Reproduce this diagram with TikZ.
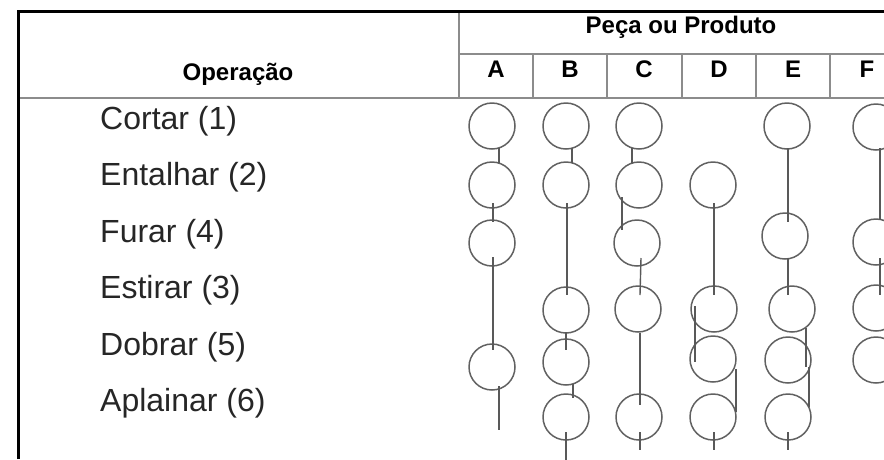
\documentclass[tikz,border=0pt]{standalone}
\usepackage{fontspec}
\setmainfont{Liberation Sans}
\usetikzlibrary{calc}

\begin{document}
\begin{tikzpicture}[x=1pt,y=-1pt]
\tikzstyle{op}=[circle,draw=black!62,line width=1.5pt,minimum size=46pt,inner sep=0pt]
\tikzstyle{link}=[draw=black!65,line width=1.4pt]
\tikzstyle{rule}=[draw=black!45,line width=1.6pt]
\tikzstyle{lbl}=[anchor=base west,inner sep=0pt,text=black!85,font=\fontsize{32}{38}\selectfont]
\tikzstyle{hd}=[anchor=base,inner sep=0pt,font=\fontsize{24}{28}\selectfont\bfseries]
\useasboundingbox (0,0) rectangle (884,459);
\clip (0,0) rectangle (884,459);
% table head
\draw[rule] (18,98) -- (884,98);
\draw[rule] (459,11) -- (459,98);
\draw[rule] (459,54) -- (884,54);
\foreach \x in {533,607,682,756,830} \draw[rule] (\x,54) -- (\x,98);
\draw[line width=3pt] (18,459) -- (18,11) -- (884,11);
\node[hd]	(hop)	at (238,80)		{Operação};
\node[hd]	(hpp)	at (681,33)		{Peça ou Produto};
\foreach \c/\x in {A/496,B/570,C/644,D/719,E/793,F/867}
	\node[hd] (h\c) at (\x,77) {\c};
% operations
\node[lbl]	(op1)	at (100,129)	{Cortar (1)};
\node[lbl]	(op2)	at (100,185)	{Entalhar (2)};
\node[lbl]	(op3)	at (100,242)	{Furar (4)};
\node[lbl]	(op4)	at (100,298)	{Estirar (3)};
\node[lbl]	(op5)	at (100,355)	{Dobrar (5)};
\node[lbl]	(op6)	at (100,411)	{Aplainar (6)};
% circles
\node[op]	(A1)	at (492,126)	{};
\node[op]	(A2)	at (492,185)	{};
\node[op]	(A3)	at (492,243)	{};
\node[op]	(A5)	at (492,367)	{};
\node[op]	(B1)	at (566,126)	{};
\node[op]	(B2)	at (566,185)	{};
\node[op]	(B4)	at (566,310)	{};
\node[op]	(B5)	at (566,362)	{};
\node[op]	(B6)	at (566,417)	{};
\node[op]	(C1)	at (639,126)	{};
\node[op]	(C2)	at (639,185)	{};
\node[op]	(C3)	at (637,243)	{};
\node[op]	(C4)	at (638,309)	{};
\node[op]	(C6)	at (639,417)	{};
\node[op]	(D2)	at (713,185)	{};
\node[op]	(D4)	at (714,309)	{};
\node[op]	(D5)	at (713,359)	{};
\node[op]	(D6)	at (713,417)	{};
\node[op]	(E1)	at (787,126)	{};
\node[op]	(E3)	at (785,236)	{};
\node[op]	(E4)	at (792,309)	{};
\node[op]	(E5)	at (788,360)	{};
\node[op]	(E6)	at (788,417)	{};
\node[op]	(F1)	at (876,127)	{};
\node[op]	(F3)	at (876,242)	{};
\node[op]	(F4)	at (876,308)	{};
\node[op]	(F5)	at (876,360)	{};
% routes
\draw[link] ($(A1)+(7,22)$) -- ($(A2)+(7,-22)$);
\draw[link] ($(A2)+(1,18)$) -- ($(A3)+(1,-21)$);
\draw[link] ($(A3)+(1,14)$) -- ($(A5)+(1,-17)$);
\draw[link] ($(A5)+(7,19)$) -- ($(A5)+(7,63)$);
\draw[link] ($(B1)+(6,22)$) -- ($(B2)+(6,-22)$);
\draw[link] ($(B2)+(1,18)$) -- ($(B4)+(1,-15)$);
\draw[link] ($(B4)+(0,22)$) -- ($(B5)+(0,-12)$);
\draw[link] ($(B5)+(7,22)$) -- ($(B6)+(7,-19)$);
\draw[link] ($(B6)+(0,15)$) -- ($(B6)+(0,45)$);
\draw[link] ($(C1)+(-7,22)$) -- ($(C2)+(-7,-22)$);
\draw[link] ($(C2)+(-17,12)$) -- ($(C3)+(-15,-13)$);
\draw[link] ($(C3)+(4,15)$) -- ($(C4)+(2,-14)$);
\draw[link] ($(C4)+(2,24)$) -- ($(C6)+(1,-12)$);
\draw[link] ($(C6)+(1,15)$) -- ($(C6)+(1,33)$);
\draw[link] ($(D2)+(1,18)$) -- ($(D4)+(0,-14)$);
\draw[link] ($(D4)+(-19,-3)$) -- ($(D5)+(-18,3)$);
\draw[link] ($(D5)+(23,10)$) -- ($(D6)+(23,-5)$);
\draw[link] ($(D6)+(1,15)$) -- ($(D6)+(1,33)$);
\draw[link] ($(E1)+(1,22)$) -- ($(E3)+(3,-14)$);
\draw[link] ($(E3)+(3,22)$) -- ($(E4)+(-4,-14)$);
\draw[link] ($(E4)+(14,19)$) -- ($(E5)+(18,7)$);
\draw[link] ($(E5)+(21,7)$) -- ($(E6)+(21,-10)$);
\draw[link] ($(E6)+(0,15)$) -- ($(E6)+(0,33)$);
\draw[link] ($(F1)+(4,21)$) -- ($(F3)+(4,-22)$);
\draw[link] ($(F3)+(4,16)$) -- ($(F4)+(4,-13)$);
\end{tikzpicture}
\end{document}
